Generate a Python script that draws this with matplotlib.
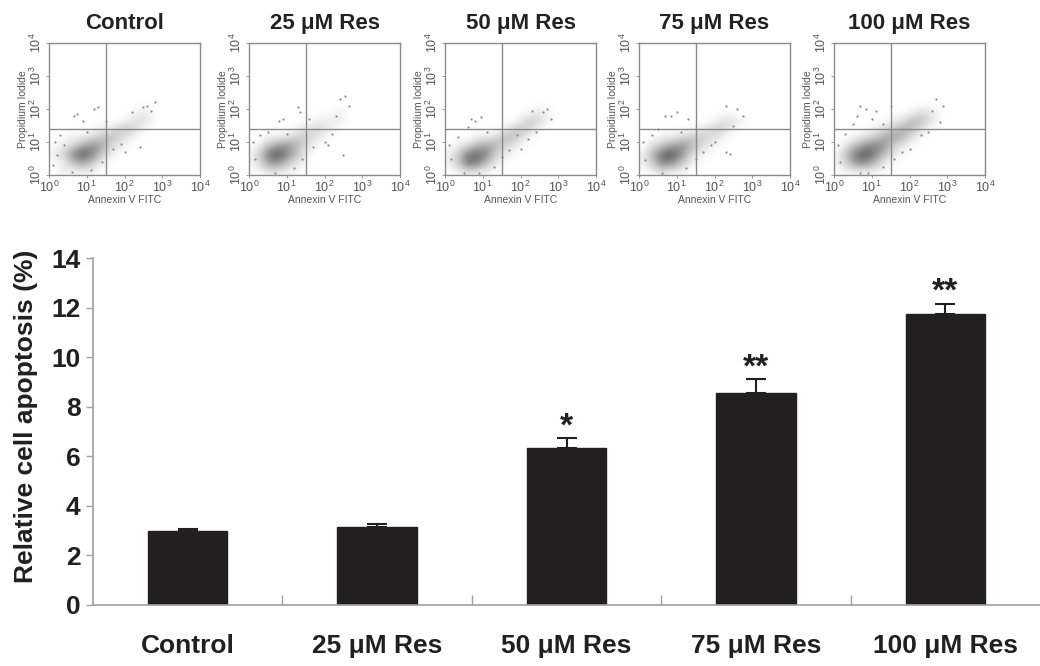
import matplotlib
matplotlib.use("Agg")
import matplotlib.pyplot as plt
import numpy as np
from matplotlib.colors import LinearSegmentedColormap

plt.rcParams["font.family"] = ["Liberation Sans", "DejaVu Sans"]
plt.rcParams["mathtext.default"] = "regular"

# ---- bar chart data ----
groups = ["Control", "25 \u03bcM Res", "50 \u03bcM Res", "75 \u03bcM Res", "100 \u03bcM Res"]
apoptosis = [3.0, 3.15, 6.32, 8.55, 11.76]
apoptosis_err = [0.07, 0.1, 0.4, 0.55, 0.4]
stars = ["", "", "*", "**", "**"]

# ---- flow cytometry panels (log10 units) ----
gate_x = 1.5
gate_y = 1.38
# density grids: rows top -> bottom (log PI 2.0 -> 0.0, step 0.25),
# cols left -> right (log Annexin 0.0 -> 3.0, step 0.25)
dens_control = [
    [0, 0, 0, 0, 0, 0, 0, 0, 0, 1, 1, 0],
    [0, 0, 0, 0, 0, 0, 0, 0, 1, 2, 1, 0],
    [0, 0, 0, 0, 0, 1, 1, 3, 3, 1, 0, 0],
    [0, 0, 1, 1, 2, 3, 4, 2, 1, 0, 0, 0],
    [0, 1, 2, 4, 6, 5, 2, 1, 0, 0, 0, 0],
    [1, 2, 6, 9, 7, 3, 1, 0, 0, 0, 0, 0],
    [0, 1, 3, 5, 3, 1, 0, 0, 0, 0, 0, 0],
    [0, 1, 1, 1, 1, 0, 0, 0, 0, 0, 0, 0],
]
dens_25 = [
    [0, 0, 0, 0, 0, 0, 0, 0, 0, 1, 0, 0],
    [0, 0, 0, 0, 0, 0, 0, 1, 1, 1, 0, 0],
    [0, 0, 0, 0, 0, 1, 2, 2, 1, 0, 0, 0],
    [0, 0, 1, 1, 2, 3, 2, 1, 0, 0, 0, 0],
    [0, 2, 4, 6, 5, 3, 1, 0, 0, 0, 0, 0],
    [1, 4, 9, 8, 5, 2, 0, 0, 0, 0, 0, 0],
    [1, 3, 6, 5, 2, 1, 0, 0, 0, 0, 0, 0],
    [0, 1, 2, 1, 1, 0, 0, 0, 0, 0, 0, 0],
]
dens_50 = [
    [0, 0, 0, 0, 0, 0, 0, 0, 0, 1, 1, 0],
    [0, 0, 0, 0, 0, 0, 0, 0, 2, 3, 1, 0],
    [0, 0, 0, 0, 0, 0, 1, 3, 3, 1, 0, 0],
    [0, 0, 0, 1, 1, 2, 4, 3, 1, 0, 0, 0],
    [0, 1, 2, 4, 5, 4, 2, 1, 0, 0, 0, 0],
    [1, 3, 7, 8, 6, 2, 1, 0, 0, 0, 0, 0],
    [1, 3, 8, 7, 3, 1, 0, 0, 0, 0, 0, 0],
    [0, 1, 2, 1, 1, 0, 0, 0, 0, 0, 0, 0],
]
dens_75 = [
    [0, 0, 0, 0, 0, 0, 0, 0, 0, 0, 0, 0],
    [0, 0, 0, 0, 0, 0, 0, 0, 1, 2, 1, 0],
    [0, 0, 0, 0, 0, 0, 1, 2, 3, 1, 0, 0],
    [0, 0, 1, 1, 2, 3, 3, 2, 1, 0, 0, 0],
    [0, 2, 3, 5, 6, 4, 2, 1, 0, 0, 0, 0],
    [1, 4, 8, 9, 6, 2, 1, 0, 0, 0, 0, 0],
    [1, 3, 7, 6, 3, 1, 0, 0, 0, 0, 0, 0],
    [0, 1, 2, 1, 1, 0, 0, 0, 0, 0, 0, 0],
]
dens_100 = [
    [0, 0, 0, 0, 0, 0, 0, 0, 1, 2, 1, 0],
    [0, 0, 0, 0, 0, 0, 1, 2, 4, 3, 1, 0],
    [0, 0, 0, 0, 1, 2, 3, 5, 3, 1, 0, 0],
    [0, 0, 1, 2, 3, 5, 5, 3, 1, 0, 0, 0],
    [0, 2, 4, 6, 7, 5, 2, 1, 0, 0, 0, 0],
    [1, 4, 8, 9, 6, 3, 1, 0, 0, 0, 0, 0],
    [1, 3, 6, 6, 3, 1, 0, 0, 0, 0, 0, 0],
    [0, 1, 1, 1, 1, 0, 0, 0, 0, 0, 0, 0],
]
# scattered events around the main cloud (log Annexin, log PI)
pts_control = [(0.75, 1.85), (0.65, 1.8), (1.3, 2.05), (1.2, 2.0), (2.6, 2.1), (2.8, 2.2),
               (2.7, 1.95), (2.5, 2.05), (2.4, 0.85), (2.0, 0.7), (1.9, 0.95), (0.9, 1.65),
               (1.5, 1.65), (0.15, 1.0), (0.2, 0.6), (0.1, 0.3), (0.3, 1.2), (1.1, 0.15),
               (1.4, 0.4), (0.6, 0.08), (1.7, 0.8), (2.2, 1.9), (1.0, 1.3), (0.4, 0.9)]
pts_25 = [(1.3, 2.05), (1.35, 1.9), (0.8, 1.65), (0.9, 1.7), (2.55, 2.4), (2.65, 2.1),
          (2.4, 2.3), (2.2, 1.25), (2.1, 0.9), (2.5, 0.6), (2.0, 1.0), (1.6, 1.7),
          (0.1, 1.0), (0.15, 0.5), (0.3, 1.2), (1.2, 0.2), (1.4, 0.5), (0.7, 0.07),
          (1.7, 0.85), (2.3, 1.8), (0.5, 1.3), (1.0, 1.25)]
pts_50 = [(0.7, 1.7), (0.8, 1.65), (0.95, 1.75), (2.7, 2.0), (2.6, 1.9), (2.2, 1.1),
          (2.0, 0.8), (1.9, 1.2), (2.8, 1.7), (0.9, 0.05), (0.5, 0.05), (0.1, 0.9),
          (0.15, 0.5), (0.35, 1.15), (1.3, 0.25), (1.5, 0.55), (1.7, 0.75), (2.4, 1.3),
          (1.1, 1.3), (0.6, 1.45), (2.3, 1.95)]
pts_75 = [(0.7, 1.8), (0.85, 1.8), (1.0, 1.9), (1.3, 1.7), (2.3, 2.1), (2.6, 2.0),
          (2.75, 1.8), (2.3, 0.7), (2.4, 0.65), (2.0, 1.0), (1.9, 0.9), (0.1, 1.0),
          (0.15, 0.45), (0.35, 1.2), (1.25, 0.2), (1.5, 0.5), (0.6, 0.07), (1.1, 1.3),
          (2.5, 1.5), (1.7, 0.7), (0.5, 1.4)]
pts_100 = [(0.7, 2.1), (0.85, 2.0), (0.6, 1.8), (1.0, 1.7), (1.1, 1.95), (2.7, 2.3),
           (2.9, 2.1), (2.8, 1.6), (2.3, 1.2), (2.0, 0.8), (2.5, 1.3), (1.5, 2.1),
           (0.1, 0.9), (0.15, 0.4), (0.3, 1.25), (1.3, 0.25), (1.6, 0.5), (0.7, 0.06),
           (0.9, 0.05), (1.8, 0.7), (2.6, 1.95), (0.5, 1.55), (1.3, 1.55)]

flow_dens = [dens_control, dens_25, dens_50, dens_75, dens_100]
flow_pts = [pts_control, pts_25, pts_50, pts_75, pts_100]
flow_left_px = [49, 249, 445, 639, 834]

W, H = 1040, 666
fig = plt.figure(figsize=(W / 100, H / 100), dpi=100)

cloud = LinearSegmentedColormap.from_list("cloud", ["#ffffff", "#4e4e4e"])
dec_labels = ["10$^{%d}$" % i for i in range(5)]
frame_c = "#8a8a8a"
txt_c = "#555555"

for title, dens, pts, lpx in zip(groups, flow_dens, flow_pts, flow_left_px):
    ax = fig.add_axes([lpx / W, 1 - 175 / H, 151 / W, 132 / H])
    grid = np.pad(np.array(dens, dtype=float), 1)  # zero border so the cloud fades out
    ax.imshow(grid, cmap=cloud, vmin=0, vmax=9.5,
              extent=(-0.25, 3.25, -0.25, 2.25), aspect="auto",
              interpolation="bicubic", zorder=0)
    px, py = zip(*pts)
    ax.scatter(px, py, s=2.5, color="#8c8c8c", linewidths=0, zorder=1)
    ax.axvline(gate_x, color=frame_c, lw=1, zorder=3)
    ax.axhline(gate_y, color=frame_c, lw=1, zorder=3)
    ax.set_xlim(0, 4)
    ax.set_ylim(0, 4)
    ax.set_xticks(range(5))
    ax.set_yticks(range(5))
    ax.set_xticklabels(dec_labels, fontsize=9, color=txt_c)
    ax.set_yticklabels(dec_labels, fontsize=9, color=txt_c, rotation=90, va="center")
    ax.tick_params(length=2, width=0.6, color=frame_c, pad=1.5)
    for s in ax.spines.values():
        s.set_color(frame_c)
        s.set_linewidth(1)
    ax.set_xlabel("Annexin V FITC", fontsize=7.5, color=txt_c, labelpad=0)
    ax.set_ylabel("Propidium Iodide", fontsize=7.5, color=txt_c, labelpad=1)
    ax.set_title(title, fontsize=16, fontweight="bold", color="#222222", pad=10)

# ---- bar chart ----
bx = fig.add_axes([93 / W, 1 - 605 / H, 947 / W, 347 / H])
pos = np.arange(len(groups)) + 0.5
bx.bar(pos, apoptosis, width=0.42, color="#231f20", edgecolor="#231f20", zorder=2)
bx.errorbar(pos, apoptosis, yerr=[np.zeros(len(apoptosis)), apoptosis_err], fmt="none",
            ecolor="#231f20", elinewidth=1.5, capsize=7, capthick=1.5, zorder=3)
for p, v, e, st in zip(pos, apoptosis, apoptosis_err, stars):
    if st:
        bx.text(p, v + e + 0.45, st, ha="center", va="center", fontsize=24,
                fontweight="bold", color="#231f20")

bx.set_xlim(0, 5)
bx.set_ylim(0, 14)
bx.set_yticks(range(0, 15, 2))
bx.set_yticklabels([str(v) for v in range(0, 15, 2)], fontsize=19, fontweight="bold",
                   color="#231f20")
bx.set_xticks(pos)
bx.set_xticklabels(groups, fontsize=19, fontweight="bold", color="#231f20")
bx.tick_params(axis="x", length=0, pad=21)
bx.tick_params(axis="y", length=5, width=1, color="#a0a0a0", pad=4)
# category separators along the baseline
bx.set_xticks([1, 2, 3, 4], minor=True)
bx.tick_params(axis="x", which="minor", direction="in", length=7, width=1, color="#a0a0a0")
for side in ["top", "right"]:
    bx.spines[side].set_visible(False)
for side in ["left", "bottom"]:
    bx.spines[side].set_color("#a0a0a0")
    bx.spines[side].set_linewidth(1.2)
bx.set_ylabel("Relative cell apoptosis (%)", fontsize=19, fontweight="bold",
              color="#231f20")
bx.yaxis.set_label_coords(-0.058, 0.545)

fig.savefig("out.png", dpi=100)
